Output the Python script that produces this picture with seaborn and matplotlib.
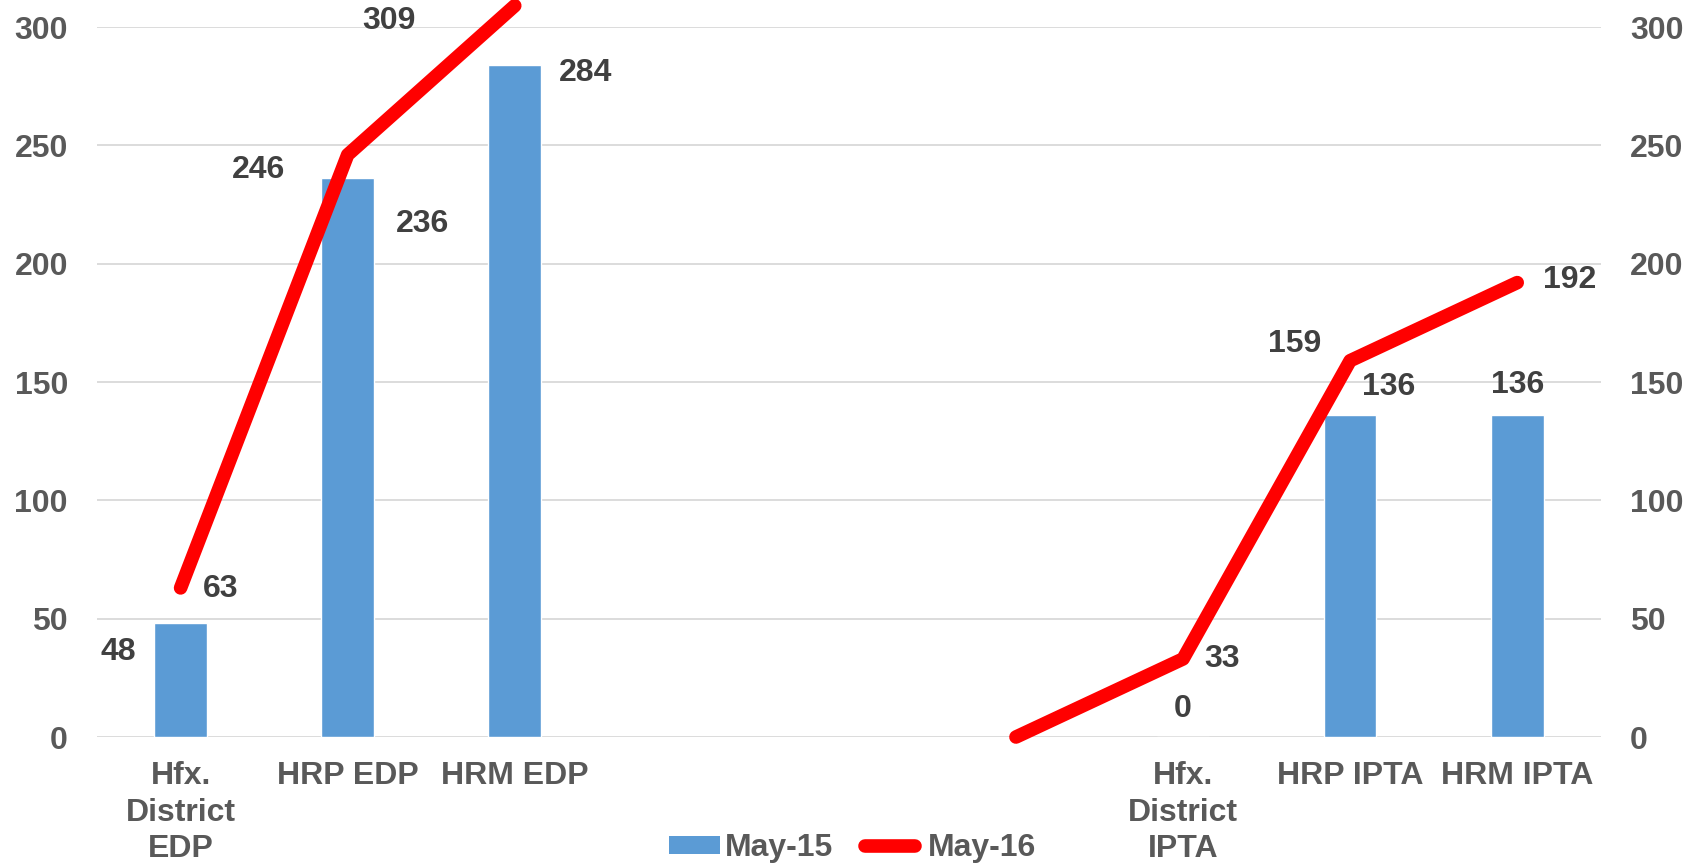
"""Bar + line combo chart: May-15 vs May-16 counts by program."""
import numpy as np
import pandas as pd
import seaborn as sns
from matplotlib import pyplot as plt
from matplotlib.legend_handler import HandlerLine2D
from matplotlib.lines import Line2D
from matplotlib.patches import Patch

# Data
categories = ["Hfx.\nDistrict\nEDP", "HRP EDP", "HRM EDP", "", "", "",
              "Hfx.\nDistrict\nIPTA", "HRP IPTA", "HRM IPTA"]
may15 = [48, 236, 284, np.nan, np.nan, np.nan, 0, 136, 136]
may16 = [63, 246, 309, np.nan, np.nan, 0, 33, 159, 192]
segment = [0, 0, 0, -1, -1, 1, 1, 1, 1]
yticks = [0, 50, 100, 150, 200, 250, 300]

# label offsets in pixels (dx, dy), None = no label
bar_label_offsets = [(-62, -29), (75, -46), (71, -8), None, None, None,
                     (0, 28), (38, 28), (0, 30)]
line_label_offsets = [(40, -1), (-89, -15), (-126, -15), None, None, None,
                      (39, 0), (-56, 17), (52, 3)]

BAR_COLOR = "#5B9BD5"
LINE_COLOR = "#FF0000"
TICK_COLOR = "#595959"
LABEL_COLOR = "#404040"
GRID_COLOR = "#D9D9D9"
FONT_SIZE = 23
LINE_WIDTH = 9.8


class ShiftedLineHandler(HandlerLine2D):
    """Legend line drawn a bit to the left so its round cap clears the text."""

    def create_artists(self, legend, orig_handle, xdescent, ydescent,
                       width, height, fontsize, trans):
        artists = super().create_artists(legend, orig_handle, xdescent,
                                         ydescent, width, height, fontsize,
                                         trans)
        x0 = -xdescent
        for artist in artists:
            n = len(artist.get_xdata())
            if n >= 2:
                artist.set_xdata(np.linspace(x0 - 5, x0 + width - 6, n))
        return artists


sns.set_style("white")
plt.rcParams["font.family"] = ["Liberation Sans", "DejaVu Sans"]
plt.rcParams["font.weight"] = "bold"

pos = list(range(len(categories)))
bar_df = pd.DataFrame({"pos": pos, "value": may15})
line_df = pd.DataFrame({"pos": pos, "value": may16, "seg": segment})
line_df = line_df[line_df["seg"] >= 0]

fig = plt.figure(figsize=(16.85, 8.63), dpi=100)
ax = fig.add_axes([0.0576, 0.146, 0.8924, 0.8227])

sns.barplot(data=bar_df, x="pos", y="value", order=pos, color=BAR_COLOR,
            width=0.315, saturation=1, ax=ax, zorder=2)
sns.lineplot(data=line_df, x="pos", y="value", units="seg", estimator=None,
             color=LINE_COLOR, linewidth=LINE_WIDTH, solid_capstyle="round",
             legend=False, ax=ax, zorder=3)
for line in ax.lines:
    line.set_clip_on(False)

ax.set_xlim(-0.5, len(categories) - 0.5)
ax.set_ylim(0, 300)
ax.set_yticks(yticks)
ax.set_xticks(pos)
ax.set_xticklabels(categories, linespacing=1.28)
ax.set_xlabel("")
ax.set_ylabel("")
ax.grid(axis="y", color=GRID_COLOR, linewidth=1.3, zorder=0)
ax.set_axisbelow(True)
for side in ax.spines.values():
    side.set_visible(False)
ax.tick_params(axis="both", length=0, labelsize=FONT_SIZE,
               labelcolor=TICK_COLOR)
ax.tick_params(axis="y", pad=21)
ax.tick_params(axis="x", pad=17.5)

ax2 = ax.twinx()
ax2.set_ylim(0, 300)
ax2.set_yticks(yticks)
for side in ax2.spines.values():
    side.set_visible(False)
ax2.tick_params(axis="y", length=0, labelsize=FONT_SIZE,
                labelcolor=TICK_COLOR, pad=21)

# data labels
for i, value in enumerate(may15):
    if bar_label_offsets[i] is None or np.isnan(value):
        continue
    ax.annotate(f"{value:.0f}", xy=(i, value), xytext=bar_label_offsets[i],
                textcoords="offset pixels", ha="center", va="center",
                fontsize=FONT_SIZE, color=LABEL_COLOR, annotation_clip=False)
for i, value in enumerate(may16):
    if line_label_offsets[i] is None or np.isnan(value):
        continue
    ax.annotate(f"{value:.0f}", xy=(i, value), xytext=line_label_offsets[i],
                textcoords="offset pixels", ha="center", va="center",
                fontsize=FONT_SIZE, color=LABEL_COLOR, annotation_clip=False)

bar_handle = Patch(facecolor=BAR_COLOR, edgecolor="none", label="May-15")
line_handle = Line2D([0], [0], color=LINE_COLOR, linewidth=LINE_WIDTH,
                     solid_capstyle="round", label="May-16")
fig.legend(handles=[bar_handle, line_handle], loc="center",
           bbox_to_anchor=(0.506, 0.017), ncol=2, frameon=False,
           fontsize=FONT_SIZE, labelcolor=TICK_COLOR,
           handlelength=1.6, handleheight=0.5, handletextpad=0.15,
           columnspacing=1.2,
           handler_map={line_handle: ShiftedLineHandler()})

fig.savefig("out.png", dpi=100)
